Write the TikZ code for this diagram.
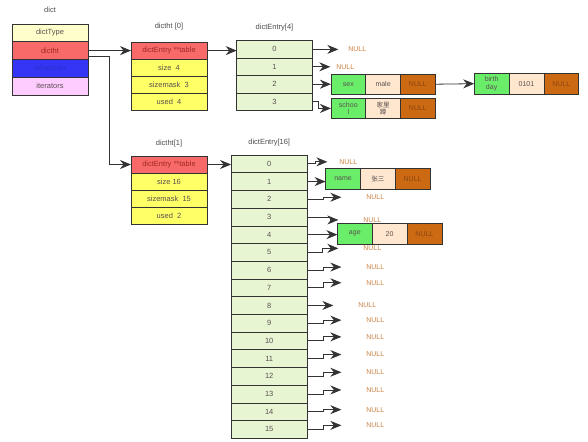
\documentclass[tikz,border=0pt]{standalone}
\usepackage{fontspec}
\setmainfont{Liberation Sans}
\newfontfamily\cjk{Noto Sans CJK SC}
\usetikzlibrary{positioning}
\usetikzlibrary{arrows.meta}
\usetikzlibrary{calc}

\definecolor{typefill}{HTML}{FFFFCC}
\definecolor{redfill}{HTML}{F86A6A}
\definecolor{bluefill}{HTML}{3535F5}
\definecolor{iterfill}{HTML}{FFCCFF}
\definecolor{yelfill}{HTML}{FFFF66}
\definecolor{entryfill}{HTML}{E8F5D3}
\definecolor{keyfill}{HTML}{6AEE6A}
\definecolor{valfill}{HTML}{FFE6CE}
\definecolor{nullfill}{HTML}{CC6A14}
\definecolor{nulltxt}{HTML}{CC8040}
\definecolor{nullcelltxt}{HTML}{8A4510}
\definecolor{txtgray}{HTML}{5A5050}
\definecolor{redtxt}{HTML}{A02828}
\definecolor{linegray}{HTML}{333333}

\begin{document}
\begin{tikzpicture}[x=1pt,y=-1pt,>={Stealth[length=11pt,width=9pt]},->,semithick,font=\fontsize{7.5}{8.5}\selectfont]
		\tikzstyle{cell}=[draw=linegray,outer sep=0pt,inner sep=1pt,text=txtgray,align=center]
		\tikzstyle{dictrow}=[cell,minimum width=76pt,minimum height=17.7pt]
		\tikzstyle{htrow}=[cell,minimum width=76pt,minimum height=17.1pt,fill=yelfill]
		\tikzstyle{entry4}=[cell,minimum width=75.6pt,minimum height=17.4pt,fill=entryfill]
		\tikzstyle{entry16}=[cell,minimum width=76.3pt,minimum height=17.7pt,fill=entryfill]
		\tikzstyle{kvcell}=[cell,minimum width=34.8pt,minimum height=20.5pt,text width=30pt,font=\fontsize{7}{7.5}\selectfont]
		\tikzstyle{keycell}=[kvcell,fill=keyfill]
		\tikzstyle{valcell}=[kvcell,fill=valfill]
		\tikzstyle{nullcell}=[kvcell,fill=nullfill,text=nullcelltxt]
		\tikzstyle{nulltext}=[inner sep=0pt,outer sep=0pt,text=nulltxt,font=\fontsize{7}{8}\selectfont]
		\tikzstyle{title}=[text=black!70]
		\tikzstyle{pointer}=[draw=linegray,line width=0.8pt,-{Stealth[length=11pt,width=9pt]}]
		
		\useasboundingbox (0,0) rectangle (588,441);
		
		% dict
		\node[dictrow,fill=typefill]       (dict-type)   at (50,32.9)          {dictType};
		\node[dictrow,fill=redfill,text=redtxt] (dict-ht) [below=0pt of dict-type] {dictht};
		\node[dictrow,fill=bluefill,text=bluefill!85!black] (dict-rehash) [below=0pt of dict-ht] {rehashidx};
		\node[dictrow,fill=iterfill]       (dict-iter) [below=0pt of dict-rehash] {iterators};
		\node[title] (dict-title) [above=8pt of dict-type] {dict};
		
		% dictht[0]
		\node[htrow,fill=redfill,text=redtxt] (ht0-table) at (169,50.6) {dictEntry **table};
		\node[htrow]       (ht0-size)  [below=0pt of ht0-table] {size\ \ 4};
		\node[htrow]       (ht0-mask)  [below=0pt of ht0-size]  {sizemask\ \ 3};
		\node[htrow]       (ht0-used)  [below=0pt of ht0-mask]  {used\ \ 4};
		\node[title] (ht0-title) [above=8pt of ht0-table] {dictht [0]};
		
		% dictht[1]
		\node[htrow,fill=redfill,text=redtxt] (ht1-table) at (169,164.5) {dictEntry **table};
		\node[htrow]       (ht1-size)  [below=0pt of ht1-table] {size 16};
		\node[htrow]       (ht1-mask)  [below=0pt of ht1-size]  {sizemask\ \ 15};
		\node[htrow]       (ht1-used)  [below=0pt of ht1-mask]  {used\ \ 2};
		\node[title] (ht1-title) [above=5pt of ht1-table] {dictht[1]};
		
		% dictEntry[4]
		\node[entry4] (e4-0) at (274.5,49.4) {0};
		\foreach \i [evaluate=\i as \j using int(\i-1)] in {1,...,3}
			\node[entry4] (e4-\i) [below=0pt of e4-\j] {\i};
		\node[title] (e4-title) [above=6pt of e4-0] {dictEntry[4]};
		
		% dictEntry[16]
		\node[entry16] (e16-0) at (269.2,163.85) {0};
		\foreach \i [evaluate=\i as \j using int(\i-1)] in {1,...,15}
			\node[entry16] (e16-\i) [below=0pt of e16-\j] {\i};
		\node[title] (e16-title) [above=5pt of e16-0] {dictEntry[16]};
		
		% key / value / next
		\node[keycell]  (sex)        at (348.3,84.2)          {sex};
		\node[valcell]  (sex-val)    [right=0pt of sex]       {male};
		\node[nullcell] (sex-null)   [right=0pt of sex-val]   {NULL};
		\node[keycell]  (school)     at (348.3,108.4)         {schoo\\l};
		\node[valcell,font=\cjk\fontsize{6.5}{7.5}\selectfont] (school-val) [right=0pt of school] {家里\\蹲};
		\node[nullcell] (school-null) [right=0pt of school-val] {NULL};
		\node[keycell]  (birth)      at (491.6,83.7)          {birth\\day};
		\node[valcell]  (birth-val)  [right=0pt of birth]     {0101};
		\node[nullcell] (birth-null) [right=0pt of birth-val] {NULL};
		\node[keycell]  (name)       at (343,178.7)           {name};
		\node[valcell,font=\cjk\fontsize{6.5}{7.5}\selectfont] (name-val) [right=0pt of name] {张三};
		\node[nullcell] (name-null)  [right=0pt of name-val]  {NULL};
		\node[keycell]  (age)        at (354.8,233.8)         {age};
		\node[valcell]  (age-val)    [right=0pt of age]       {20};
		\node[nullcell] (age-null)   [right=0pt of age-val]   {NULL};
		
		% pointers
		\draw[pointer] (dict-ht.east) -- (ht0-table.west);
		\draw[pointer] ([yshift=-5.5pt]dict-ht.east) -- ++(21,0) |- (ht1-table.west);
		\draw[pointer] (ht0-table.east) -- (ht0-table.east -| e4-0.west);
		\draw[pointer] (ht1-table.east) -- (ht1-table.east -| e16-0.west);
		
		\node[nulltext] (n4-0) [right=36pt of e4-0] {NULL};
		\node[nulltext] (n4-1) [right=24pt of e4-1] {NULL};
		\draw[pointer,shorten >=10pt] (e4-0.east) -- (n4-0.west);
		\draw[pointer,shorten >=6pt] (e4-1.east) -- (n4-1.west);
		\draw[pointer] (e4-2.east) -- (e4-2.east -| sex.west);
		\draw[pointer] (e4-3.east) -- ++(6,0) |- (school.west);
		\draw[pointer] (sex-null.east) -- (birth.west);
		
		\node[nulltext] (n16-0) [right=32pt of e16-0,yshift=2pt] {NULL};
		\draw[pointer,shorten >=12pt] (e16-0.east) -- ++(8,0) |- (n16-0.west);
		\draw[pointer] (e16-1.east) -- (e16-1.east -| name.west);
		\draw[pointer] (e16-4.east) -- (e16-4.east -| age.west);
		\foreach \i/\up/\jx/\dx in {2/2pt/16/59pt, 3/-3pt/23/56pt, 5/4pt/15/56pt, 6/3pt/16/59pt, 7/5pt/16/59pt, 8/0pt/13/51pt, 9/3pt/16/59pt, 10/4pt/16/59pt, 11/4pt/16/59pt, 12/4pt/16/59pt, 13/4pt/16/59pt, 14/2pt/16/59pt, 15/4pt/16/59pt}{
			\node[nulltext] (n16-\i) [right=\dx of e16-\i,yshift=\up] {NULL};
			\draw[pointer,shorten >=25pt] (e16-\i.east) -- ++(\jx,0) |- (n16-\i.west);
		}
\end{tikzpicture}
\end{document}
